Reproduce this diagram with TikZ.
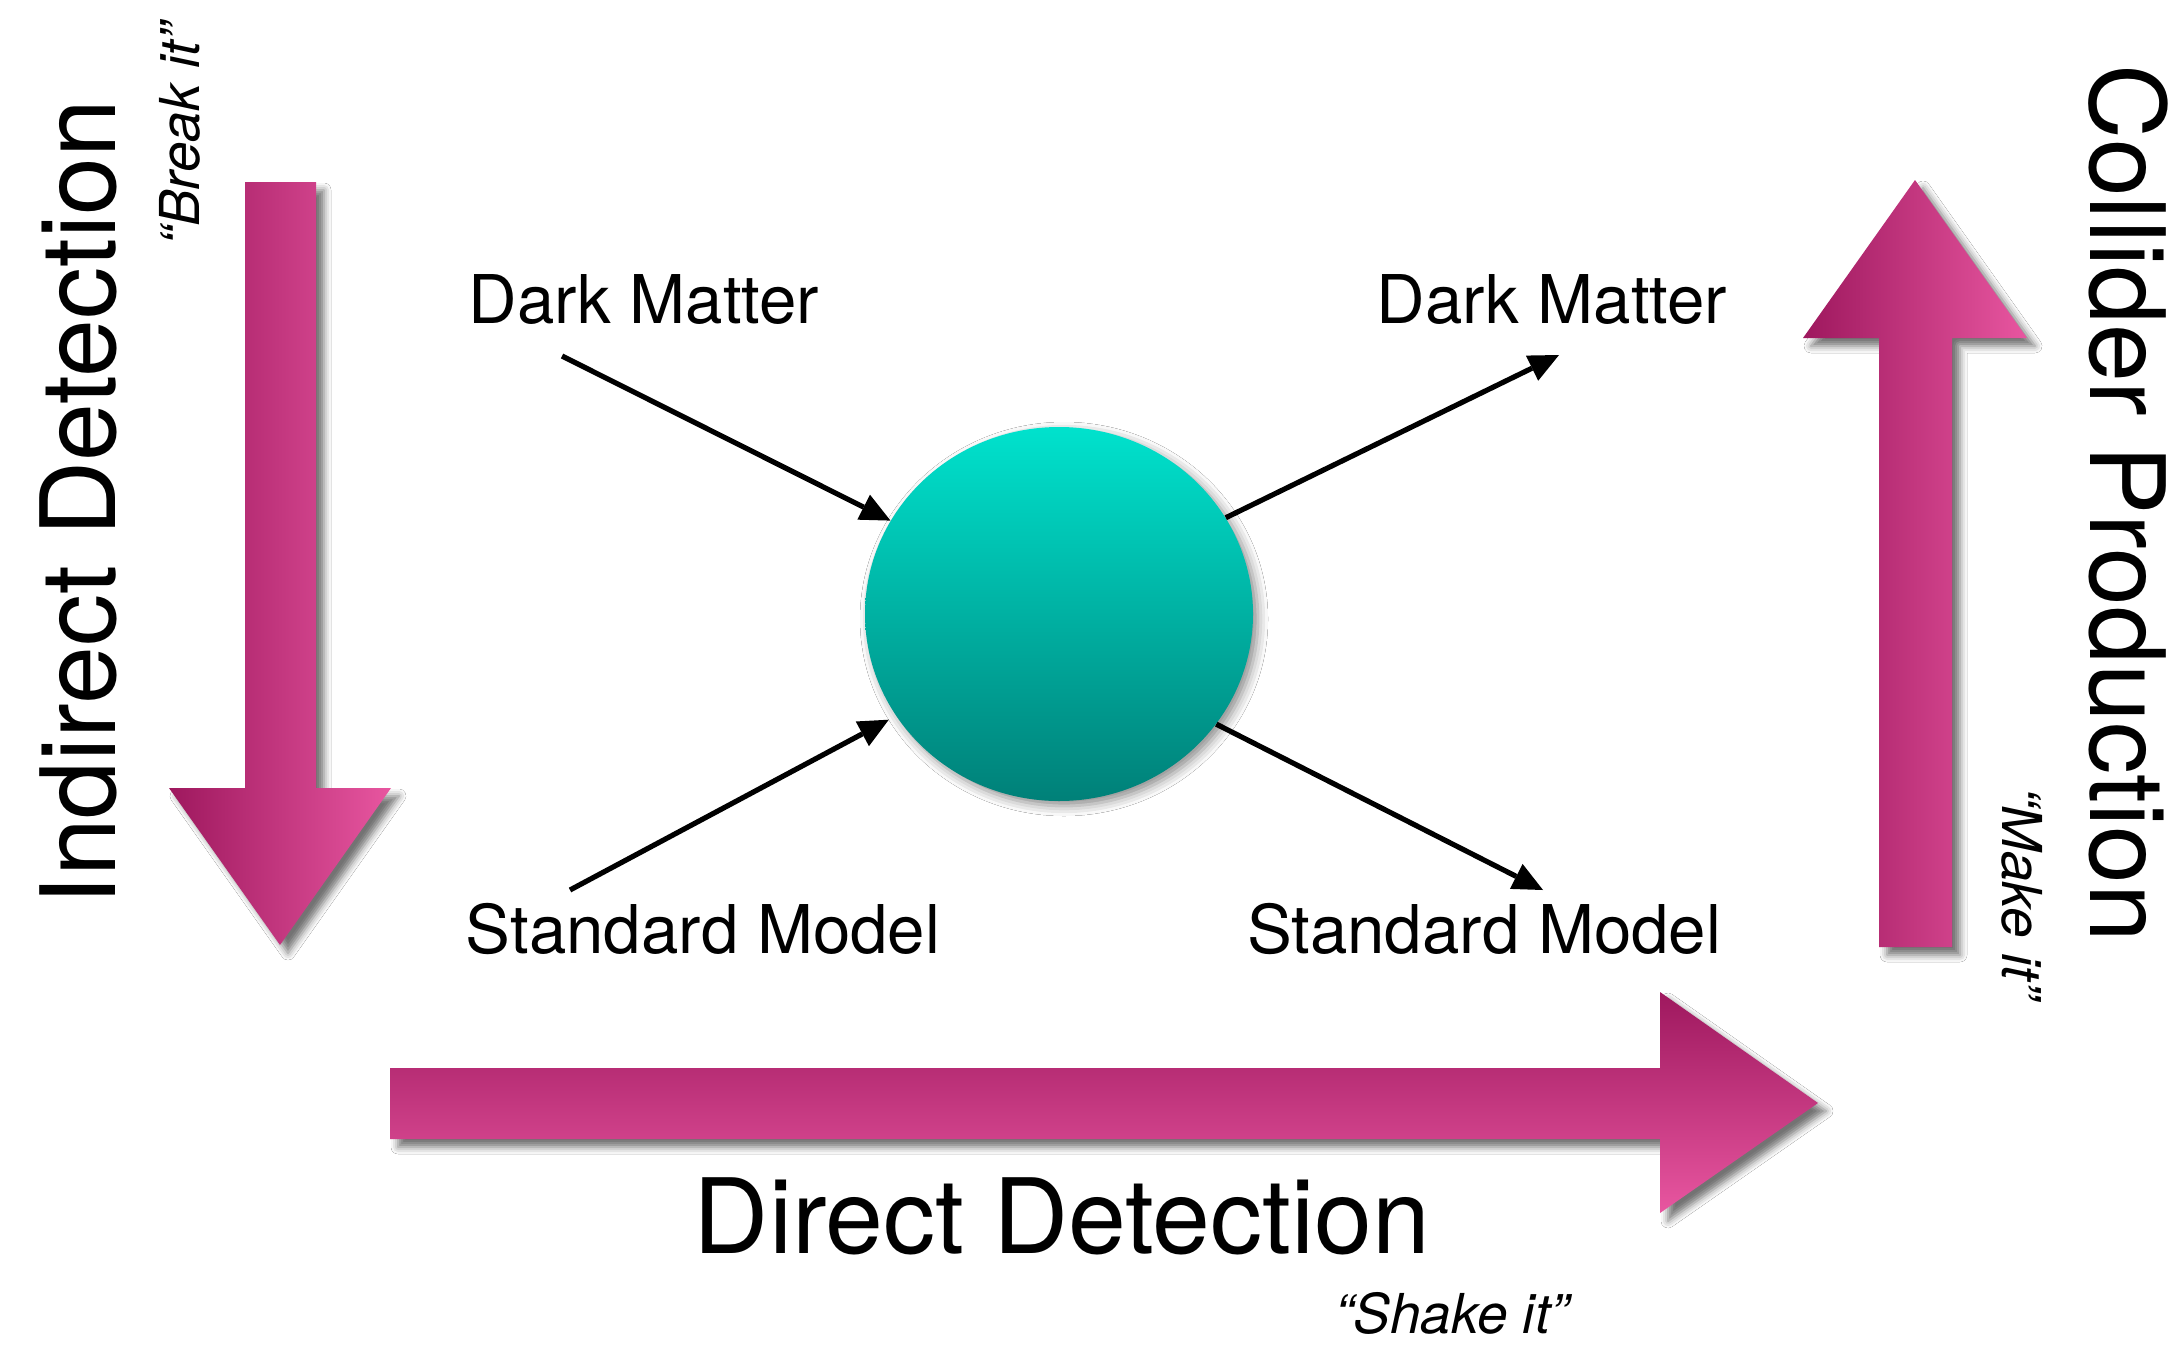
\documentclass[tikz,border=0pt]{standalone}
\usepackage{fontspec}
\setmainfont{TeX Gyre Heros}
\usetikzlibrary{arrows.meta,shapes.geometric,shadows.blur}

\definecolor{mgdark}{RGB}{158,24,94}
\definecolor{mglight}{RGB}{232,86,160}
\definecolor{tealtop}{RGB}{0,226,205}
\definecolor{tealbot}{RGB}{0,128,120}

\tikzset{
  bigarrow/.style={blur shadow={shadow xshift=4pt, shadow yshift=-4pt, shadow blur radius=3.5pt, shadow opacity=55}},
  biglabel/.style={font=\fontsize{52}{60}\selectfont, inner sep=0pt, anchor=base},
  quotelabel/.style={font=\fontsize{27.5}{32}\selectfont\itshape, inner sep=0pt, anchor=base},
  particle/.style={font=\fontsize{33.6}{40}\selectfont, inner sep=0pt, anchor=base},
  link/.style={draw=black, line width=2.6pt, -{Triangle[length=15pt,width=14pt,fill=black,line width=0pt]}},
}

\begin{document}
\begin{tikzpicture}[x=0.5pt,y=-0.5pt]
  \fill[white] (0,0) rectangle (2177,1354);
  \useasboundingbox (0,0) rectangle (2177,1354);

  % big block arrows
  \path[bigarrow, left color=mgdark, right color=mglight]
    (245,182) -- (316,182) -- (316,788) -- (391,788) -- (280,945) -- (169,788) -- (245,788) -- cycle;
  \path[bigarrow, left color=mgdark, right color=mglight]
    (1879,947) -- (1879,338) -- (1803,338) -- (1915,180) -- (2027,338) -- (1952,338) -- (1952,947) -- cycle;
  \path[bigarrow, top color=mgdark, bottom color=mglight]
    (390,1068) -- (1660,1068) -- (1660,992) -- (1818,1103) -- (1660,1213) -- (1660,1139) -- (390,1139) -- cycle;

  % central ball
  \node[ellipse, minimum width=194pt, minimum height=187pt, inner sep=0pt,
        top color=tealtop, bottom color=tealbot,
        blur shadow={shadow xshift=2.5pt, shadow yshift=-2.5pt, shadow blur radius=5pt, shadow opacity=45, shadow scale=1.0}]
        (ball) at (1059,614) {};

  % free ends of connectors
  \coordinate (dmL) at (562,356);
  \coordinate (smL) at (570,890);
  \coordinate (dmR) at (1559,355);
  \coordinate (smR) at (1543,890);

  \draw[link] (dmL) -- (ball.151);
  \draw[link, shorten >=4pt] (smL) -- (ball.212);
  \draw[link] (ball.30) -- (dmR);
  \draw[link] (ball.-35) -- (smR);

  % particle labels
  \node[particle] (dmLt) at (644,323) {Dark Matter};
  \node[particle] (dmRt) at (1552,323) {Dark Matter};
  \node[particle] (smLt) at (703,953) {Standard Model};
  \node[particle] (smRt) at (1484,953) {Standard Model};

  % big labels
  \node[biglabel, rotate=90] (indirect) at (115,503) {Indirect Detection};
  \node[biglabel, rotate=-90] (collider) at (2090,503) {Collider Production};
  \node[biglabel] (direct) at (1062,1253) {Direct Detection};

  % quotes
  \node[quotelabel, rotate=90] (breakit) at (199,134) {“Break it”};
  \node[quotelabel, rotate=-90] (makeit) at (2002,893) {“Make it”};
  \node[quotelabel] (shakeit) at (1452,1333) {“Shake it”};
\end{tikzpicture}
\end{document}
